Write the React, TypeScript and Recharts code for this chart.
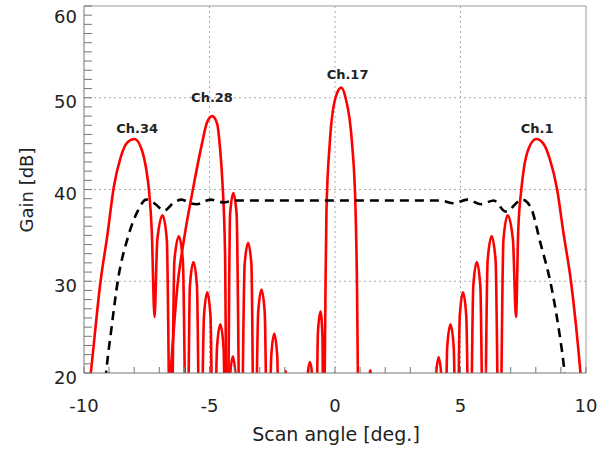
import React from "react";
import {
  LineChart,
  Line,
  XAxis,
  YAxis,
  ReferenceLine,
  ReferenceDot,
} from "recharts";

// beam patterns (deg, dB); values under 20 dB fall off the bottom
const ch34 = [
  { x: -9.9, y: 16 }, { x: -9.73, y: 20 }, { x: -9.34, y: 30 }, { x: -9.07, y: 35 },
  { x: -8.81, y: 40.3 }, { x: -8.54, y: 43.5 }, { x: -8.28, y: 45.1 }, { x: -7.99, y: 45.5 },
  { x: -7.72, y: 44.5 }, { x: -7.52, y: 42.2 }, { x: -7.41, y: 39.9 }, { x: -7.3, y: 35.5 },
  { x: -7.19, y: 26.1 },
  { x: -7.08, y: 34.5 }, { x: -6.87, y: 37.2 }, { x: -6.7, y: 34.5 }, { x: -6.54, y: 5 },
  { x: -6.4, y: 32.2 }, { x: -6.22, y: 34.9 }, { x: -6.06, y: 32.2 }, { x: -5.9, y: 5 },
  { x: -5.78, y: 29.5 }, { x: -5.64, y: 32.1 }, { x: -5.5, y: 29.5 }, { x: -5.37, y: 5 },
  { x: -5.22, y: 26.2 }, { x: -5.09, y: 28.8 }, { x: -4.96, y: 26.2 }, { x: -4.84, y: 5 },
  { x: -4.7, y: 22.8 }, { x: -4.57, y: 25.3 }, { x: -4.44, y: 22.8 }, { x: -4.33, y: 5 },
  { x: -4.19, y: 19.3 }, { x: -4.07, y: 21.8 }, { x: -3.95, y: 19.3 }, { x: -3.83, y: 5 },
];

const ch28 = [
  { x: -6.7, y: 14 }, { x: -6.55, y: 20 }, { x: -6.28, y: 29.4 }, { x: -6.02, y: 34.5 },
  { x: -5.62, y: 40.6 }, { x: -5.3, y: 45 }, { x: -5.1, y: 47.3 }, { x: -4.89, y: 48.0 },
  { x: -4.7, y: 47.2 }, { x: -4.58, y: 44.5 }, { x: -4.49, y: 41 }, { x: -4.38, y: 33 },
  { x: -4.3, y: 5 },
  { x: -4.18, y: 37.3 }, { x: -4.05, y: 39.6 }, { x: -3.92, y: 37.3 }, { x: -3.76, y: 5 },
  { x: -3.6, y: 31.8 }, { x: -3.46, y: 34.2 }, { x: -3.33, y: 31.8 }, { x: -3.21, y: 5 },
  { x: -3.06, y: 26.6 }, { x: -2.93, y: 29.1 }, { x: -2.8, y: 26.6 }, { x: -2.67, y: 5 },
  { x: -2.54, y: 21.8 }, { x: -2.42, y: 24.3 }, { x: -2.3, y: 21.8 }, { x: -2.2, y: 5 },
  { x: -2.06, y: 17.8 }, { x: -1.96, y: 20.2 }, { x: -1.86, y: 17.8 }, { x: -1.75, y: 5 },
];

const ch17 = [
  { x: -1.2, y: 5 }, { x: -1.1, y: 19.5 }, { x: -1.0, y: 21.2 }, { x: -0.9, y: 19.5 },
  { x: -0.78, y: 5 }, { x: -0.68, y: 24.4 }, { x: -0.58, y: 26.7 }, { x: -0.5, y: 24 },
  { x: -0.45, y: 5 },
  { x: -0.41, y: 20 }, { x: -0.38, y: 28.7 }, { x: -0.34, y: 37.7 }, { x: -0.21, y: 45 },
  { x: 0.02, y: 50 }, { x: 0.25, y: 51.1 }, { x: 0.42, y: 50 }, { x: 0.68, y: 45 },
  { x: 0.82, y: 37.7 }, { x: 0.88, y: 28.7 }, { x: 0.91, y: 20 }, { x: 0.95, y: 5 },
  { x: 1.32, y: 18 }, { x: 1.41, y: 20.3 }, { x: 1.5, y: 18 }, { x: 1.6, y: 5 },
];

const ch1 = [
  { x: 3.88, y: 5 }, { x: 4.01, y: 19.2 }, { x: 4.13, y: 21.7 }, { x: 4.25, y: 19.2 },
  { x: 4.36, y: 5 }, { x: 4.47, y: 22.8 }, { x: 4.6, y: 25.3 }, { x: 4.73, y: 22.8 },
  { x: 4.85, y: 5 }, { x: 4.97, y: 26.2 }, { x: 5.1, y: 28.8 }, { x: 5.23, y: 26.2 },
  { x: 5.37, y: 5 }, { x: 5.51, y: 29.5 }, { x: 5.65, y: 32.1 }, { x: 5.79, y: 29.5 },
  { x: 5.93, y: 5 }, { x: 6.08, y: 32.2 }, { x: 6.24, y: 34.9 }, { x: 6.4, y: 32.2 },
  { x: 6.55, y: 5 }, { x: 6.71, y: 34.5 }, { x: 6.88, y: 37.2 }, { x: 7.09, y: 34.5 },
  { x: 7.21, y: 26.1 },
  { x: 7.3, y: 35.5 }, { x: 7.42, y: 39.9 }, { x: 7.52, y: 42.2 }, { x: 7.72, y: 44.5 },
  { x: 8.02, y: 45.5 }, { x: 8.3, y: 45 }, { x: 8.55, y: 43.4 }, { x: 8.85, y: 40 },
  { x: 9.1, y: 35.3 }, { x: 9.4, y: 30 }, { x: 9.78, y: 20 }, { x: 9.9, y: 16 },
];

// coverage envelope (dashed)
const envelope = [
  { x: -9.25, y: 16 }, { x: -9.12, y: 20 }, { x: -8.9, y: 25 }, { x: -8.65, y: 30.1 },
  { x: -8.25, y: 34.8 }, { x: -7.85, y: 37.7 }, { x: -7.52, y: 38.9 }, { x: -7.2, y: 38.5 },
  { x: -6.8, y: 37.7 }, { x: -6.45, y: 38.5 }, { x: -6.12, y: 38.9 }, { x: -5.75, y: 38.5 },
  { x: -5.5, y: 38.4 }, { x: -4.96, y: 38.9 }, { x: -4.44, y: 38.6 }, { x: -4.0, y: 38.8 },
  { x: 0, y: 38.8 }, { x: 3.41, y: 38.8 }, { x: 4.2, y: 38.8 }, { x: 4.73, y: 38.5 },
  { x: 5.27, y: 38.9 }, { x: 5.8, y: 38.4 }, { x: 6.33, y: 38.8 }, { x: 6.8, y: 37.6 },
  { x: 7.45, y: 38.9 }, { x: 7.79, y: 38.1 }, { x: 8.19, y: 34.1 }, { x: 8.59, y: 29.8 },
  { x: 8.92, y: 24.7 }, { x: 9.12, y: 20.7 }, { x: 9.25, y: 17 },
];

const channelLabels = [
  { x: -7.88, y: 46.7, text: "Ch.34" },
  { x: -4.9, y: 50.0, text: "Ch.28" },
  { x: 0.5, y: 52.5, text: "Ch.17" },
  { x: 8.05, y: 46.7, text: "Ch.1" },
];

const xTicks = [-10, -9, -8, -7, -6, -5, -4, -3, -2, -1, 0, 1, 2, 3, 4, 5, 6, 7, 8, 9, 10];
const yTicks = [
  20, 21, 22, 23, 24, 25, 26, 27, 28, 29, 30, 31, 32, 33, 34, 35, 36, 37, 38, 39, 40,
  41, 42, 43, 44, 45, 46, 47, 48, 49, 50, 51, 52, 53, 54, 55, 56, 57, 58, 59, 60,
];
const xGrid = [-5, 0, 5];
const yGrid = [30, 40, 50];

const W = 614;
const H = 450;
const LEFT = 84;
const RIGHT = 586;
const TOP = 6;
const BOTTOM = 373;
const FONT = "'DejaVu Sans', sans-serif";

function YTick(props: any) {
  const { y, payload } = props;
  const v = payload.value;
  return (
    <g>
      <line x1={LEFT} x2={LEFT + 8} y1={y} y2={y} stroke="#777" />
      {v % 10 === 0 && (
        <text
          x={77}
          y={y + (v === 60 ? 10 : 4)}
          textAnchor="end"
          dominantBaseline="central"
          fontSize={18}
          fontFamily={FONT}
          fill="#222"
        >
          {v}
        </text>
      )}
    </g>
  );
}

function XTick(props: any) {
  const { x, payload } = props;
  const v = payload.value;
  return (
    <g>
      <line x1={x} x2={x} y1={BOTTOM} y2={BOTTOM - 6} stroke="#777" />
      {v % 5 === 0 && (
        <text
          x={x}
          y={BOTTOM + 32}
          textAnchor="middle"
          dominantBaseline="central"
          fontSize={18}
          fontFamily={FONT}
          fill="#222"
        >
          {v}
        </text>
      )}
    </g>
  );
}

export default function App() {
  return (
    <div style={{ position: "absolute", left: 0, top: 0, width: W, height: H, background: "#fff" }}>
      <LineChart
        width={W}
        height={H}
        margin={{ top: TOP, right: W - RIGHT, bottom: 0, left: 0 }}
      >
        <XAxis
          type="number"
          dataKey="x"
          domain={[-10, 10]}
          ticks={xTicks}
          allowDataOverflow
          height={H - BOTTOM}
          tick={<XTick />}
          tickLine={false}
          axisLine={{ stroke: "#777" }}
          interval={0}
        />
        <YAxis
          type="number"
          dataKey="y"
          domain={[20, 60]}
          ticks={yTicks}
          allowDataOverflow
          width={LEFT}
          tick={<YTick />}
          tickLine={false}
          axisLine={{ stroke: "#777" }}
          interval={0}
        />
        {yGrid.map((v) => (
          <ReferenceLine key={"h" + v} y={v} stroke="#aaa" strokeDasharray="2 3" />
        ))}
        {xGrid.map((v) => (
          <ReferenceLine key={"v" + v} x={v} stroke="#aaa" strokeDasharray="2 3" />
        ))}
        <ReferenceLine y={60} stroke="#999" />
        <ReferenceLine x={10} stroke="#999" />

        {[ch34, ch28, ch17, ch1].map((d, i) => (
          <Line
            key={i}
            data={d}
            dataKey="y"
            type="monotone"
            stroke="#ff0000"
            strokeWidth={2.6}
            dot={false}
            isAnimationActive={false}
          />
        ))}
        <Line
          data={envelope}
          dataKey="y"
          type="monotone"
          stroke="#000"
          strokeWidth={2.6}
          strokeDasharray="9 6"
          dot={false}
          isAnimationActive={false}
        />

        {channelLabels.map((c) => (
          <ReferenceDot
            key={c.text}
            x={c.x}
            y={c.y}
            r={0}
            ifOverflow="visible"
            shape={(p: any) => (
              <text
                x={p.cx}
                y={p.cy}
                textAnchor="middle"
                dominantBaseline="central"
                fontSize={13}
                fontWeight="bold"
                fontFamily={FONT}
                fill="#222"
              >
                {c.text}
              </text>
            )}
          />
        ))}

        <text
          x={26}
          y={190}
          transform="rotate(-90 26 190)"
          textAnchor="middle"
          dominantBaseline="central"
          fontSize={18}
          fontFamily={FONT}
          fill="#222"
        >
          Gain [dB]
        </text>
        <text
          x={336}
          y={434}
          textAnchor="middle"
          dominantBaseline="central"
          fontSize={19}
          fontFamily={FONT}
          fill="#222"
        >
          Scan angle [deg.]
        </text>
      </LineChart>
    </div>
  );
}
